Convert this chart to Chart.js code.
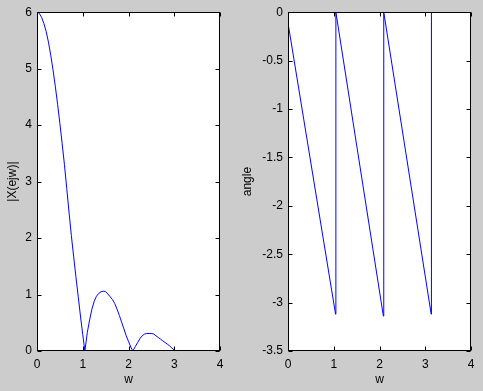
<!DOCTYPE html>
<html><head><meta charset="utf-8">
<script src="https://cdn.jsdelivr.net/npm/chart.js@4/dist/chart.umd.min.js"></script>
<style>
html,body{margin:0;padding:0;background:#cccccc;width:483px;height:391px;overflow:hidden;}
#c1{position:absolute;left:0;top:0;}
#c2{position:absolute;left:240px;top:0;}
</style></head><body>
<canvas id="c1" width="241" height="391"></canvas>
<canvas id="c2" width="243" height="391"></canvas>
<script>
// ---- data ----
const magW = [0,0.05,0.1,0.15,0.2,0.25,0.3,0.35,0.4,0.45,0.5,0.55,0.6,0.65,0.7,0.75,0.8,0.85,0.9,0.95,1.0,1.047,
  1.1,1.15,1.2,1.25,1.3,1.35,1.4,1.46,1.5,1.55,1.6,1.65,1.7,1.75,1.8,1.85,1.9,1.95,2.0,2.05,2.094,
  2.15,2.2,2.25,2.3,2.35,2.4,2.45,2.5,2.55,2.6,2.65,2.7,2.75,2.8,2.85,2.9,2.95,3.0,3.04,3.1416];
const magV = [6,5.98,5.91,5.8,5.66,5.47,5.24,4.98,4.69,4.37,4.03,3.67,3.3,2.88,2.46,2.05,1.68,1.32,0.97,0.62,0.29,0,
  0.33,0.55,0.74,0.88,0.97,1.02,1.05,1.06,1.05,1.01,0.96,0.91,0.84,0.74,0.63,0.51,0.39,0.27,0.17,0.07,0,
  0.08,0.15,0.22,0.27,0.3,0.31,0.31,0.31,0.3,0.27,0.24,0.21,0.18,0.15,0.12,0.09,0.05,0.02,0,0];
const phaseW = [0,0.01,1.04,1.045,1.048,2.085,2.09,2.096,3.13,3.135];
const phaseV = [0,-0.14,-3.12,-1.57,0,-3.14,-1.57,0,-3.12,0];
const xTicks = [0,1,2,3,4];
const magTicks = [0,1,2,3,4,5,6];
const phaseTicks = [0,-0.5,-1,-1.5,-2,-2.5,-3,-3.5];

const FONT = {family:'"Liberation Sans", Arial, sans-serif', size:12};

const boxPlugin = {
  id:'box',
  beforeDraw(chart){
    const a = chart.chartArea, ctx = chart.ctx;
    ctx.save(); ctx.fillStyle='#ffffff';
    ctx.fillRect(a.left, a.top, a.right-a.left, a.bottom-a.top);
    ctx.restore();
  },
  afterDraw(chart){
    const a = chart.chartArea, ctx = chart.ctx;
    const xs = chart.scales.x, ys = chart.scales.y;
    const L = Math.round(a.left)+0.5, R = Math.round(a.right)-0.5, T = Math.round(a.top)+0.5, B = Math.round(a.bottom)-0.5;
    ctx.save();
    ctx.strokeStyle='#000'; ctx.lineWidth=1;
    ctx.strokeRect(L, T, R-L, B-T);
    ctx.beginPath();
    xs.ticks.forEach(t=>{
      const px = Math.round(xs.getPixelForValue(t.value))+0.5;
      ctx.moveTo(px,B); ctx.lineTo(px,B-4);
      ctx.moveTo(px,T); ctx.lineTo(px,T+4);
    });
    ys.ticks.forEach(t=>{
      const py = Math.round(ys.getPixelForValue(t.value))+0.5;
      ctx.moveTo(L,py); ctx.lineTo(L+4,py);
      ctx.moveTo(R,py); ctx.lineTo(R-4,py);
    });
    ctx.stroke();
    ctx.restore();
  }
};

function makeChart(id, xsArr, ysArr, yTicks, ymin, ymax, ytitle, yWidth, padRight, titlePad){
  const pts = xsArr.map((w,i)=>({x:w, y:ysArr[i]}));
  return new Chart(document.getElementById(id), {
    type:'scatter',
    data:{datasets:[{data:pts, showLine:true, borderColor:'#0000ff', borderWidth:1, pointRadius:0, tension:0, fill:false}]},
    options:{
      responsive:false, animation:false, devicePixelRatio:1,
      layout:{padding:{top:9, right:padRight, bottom:0, left:0}},
      plugins:{legend:{display:false}, tooltip:{enabled:false}},
      scales:{
        x:{type:'linear', min:0, max:4,
           afterBuildTicks(s){ s.ticks = xTicks.map(v=>({value:v})); },
           afterFit(s){ s.height = 40; },
           grid:{display:false, drawTicks:false}, border:{display:false},
           ticks:{color:'#000', font:FONT, padding:6, maxRotation:0, callback:v=>String(v)},
           title:{display:true, text:'w', color:'#000', font:FONT, padding:{top:0,bottom:4}}},
        y:{type:'linear', min:ymin, max:ymax,
           afterBuildTicks(s){ s.ticks = yTicks.map(v=>({value:v})); },
           afterFit(s){ s.width = yWidth; },
           grid:{display:false, drawTicks:false}, border:{display:false},
           ticks:{color:'#000', font:FONT, padding:5, callback:v=>String(v)},
           title:{display:true, text:ytitle, color:'#000', font:FONT, padding:{top:titlePad,bottom:0}}}
      }
    },
    plugins:[boxPlugin]
  });
}

makeChart('c1', magW, magV, magTicks, 0, 6, '|X(ejw)|', 37, 21, 5);
makeChart('c2', phaseW, phaseV, phaseTicks, -3.5, 0, 'angle', 48, 12, 0);
</script>
</body></html>
